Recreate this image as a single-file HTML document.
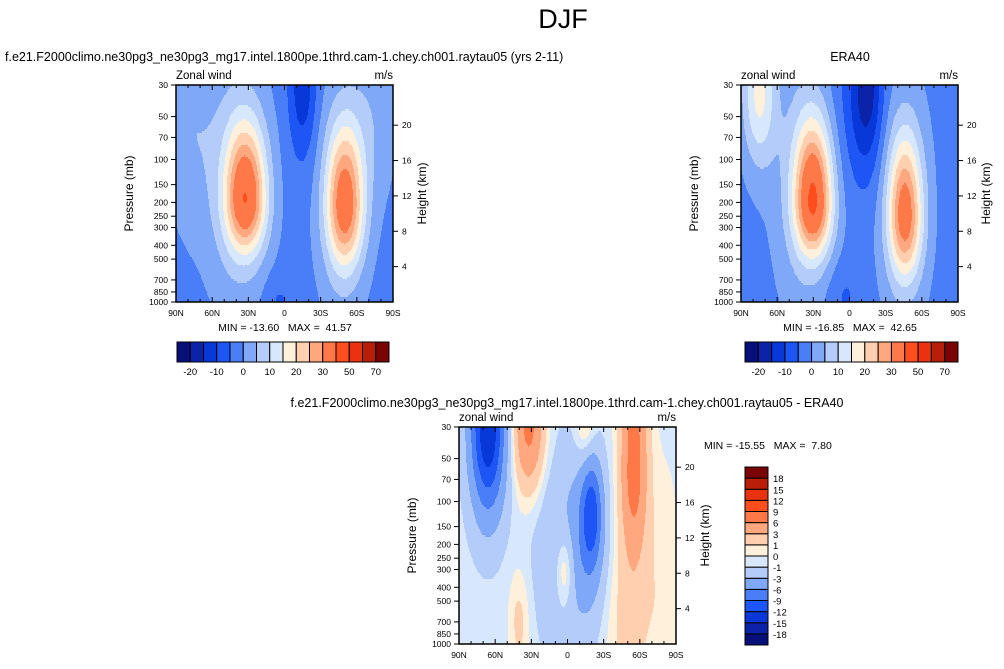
<!DOCTYPE html>
<html><head><meta charset="utf-8"><style>
html,body{margin:0;padding:0;background:#fff;}
svg{display:block;font-family:"Liberation Sans",Arial,sans-serif;}
text{white-space:pre;}
</style></head><body>
<svg id="chart" width="1004" height="669" viewBox="0 0 1004 669">
<text x="563" y="28" font-size="27" text-anchor="middle">DJF</text>
<text x="5" y="61" font-size="12.5">f.e21.F2000climo.ne30pg3_ne30pg3_mg17.intel.1800pe.1thrd.cam-1.chey.ch001.raytau05 (yrs 2-11)</text>
<text x="850" y="61" font-size="12.5" text-anchor="middle">ERA40</text>
<text x="567" y="407" font-size="12.5" text-anchor="middle">f.e21.F2000climo.ne30pg3_ne30pg3_mg17.intel.1800pe.1thrd.cam-1.chey.ch001.raytau05 - ERA40</text>
<text x="285" y="331" font-size="10.5" text-anchor="middle">MIN = -13.60&#160;&#160;&#160;MAX =&#160;&#160;41.57</text>
<text x="850" y="331" font-size="10.5" text-anchor="middle">MIN = -16.85&#160;&#160;&#160;MAX =&#160;&#160;42.65</text>
<text x="704" y="449" font-size="10.5">MIN = -15.55&#160;&#160;&#160;MAX =&#160;&#160;7.80</text>
<g id="panels"></g>
</svg>
<script>
// ---- data ----
const absLevels = [-20,-15,-10,-5,0,5,10,15,20,25,30,40,50,60,70];
const absLabels = ["-20","-10","0","10","20","30","50","70"];
const diffLevels = [-18,-15,-12,-9,-6,-3,-1,0,1,3,6,9,12,15,18];
const palette = ["#060f7a","#0a23a8","#0838d8","#1e55f5","#4a7ef8","#80a8f8","#b4ccfa","#d8e8fc","#fff0dc","#ffcfb0","#ffa880","#ff7848","#ff4e1e","#e83210","#b81e08","#7a0404"];
const pTicks = [30,50,70,100,150,200,250,300,400,500,700,850,1000];
const kmTicks = [4,8,12,16,20];
const latTicks = [90,60,30,0,-30,-60,-90];
const latTickLabels = ["90N","60N","30N","0","30S","60S","90S"];

// model field blobs
const mBase = -2;
const mLat  = [32, 40, -50, -48, -15, 78, -75, 5];
const mP    = [190, 150, 210, 200, 30, 60, 50, 1000];
const mAmp  = [35, 8, 32, 6, -12, 6, 5, -4];
const mSLat = [12, 18, 11, 15, 8, 15, 14, 8];
const mSUp  = [0.85, 1.5, 0.9, 1.5, 0.9, 1.2, 1.2, 0.3];
const mSDn  = [0.6, 1.5, 0.7, 1.5, 0.8, 1.2, 1.0, 0.3];

// ERA40 field blobs
const oBase = -2;
const oLat  = [30, 38, -46, -45, -15, 75, -5, 5];
const oP    = [200, 150, 250, 200, 30, 35, 40, 900];
const oAmp  = [37, 8, 31, 6, -13, 18, -5, -4];
const oSLat = [11, 18, 10, 15, 9, 10, 15, 10];
const oSUp  = [0.9, 1.5, 0.9, 1.5, 0.9, 0.8, 1.0, 0.4];
const oSDn  = [0.6, 1.5, 0.7, 1.5, 0.9, 0.8, 1.0, 0.4];

// difference field blobs
const dBase = -0.5;
const dLat  = [66, 32, -55, -50, -20, -15, 2, 10, -15, 40, -80];
const dP    = [30, 30, 60, 700, 120, 200, 300, 200, 30, 700, 400];
const dAmp  = [-14.5, 7.5, 8, 2.0, -8, -4, 3.5, -1.8, 2.5, 2.0, 1.2];
const dSLat = [10, 9, 8, 14, 6, 12, 5.5, 15, 6, 6, 10];
const dSUp  = [2, 2, 2, 1, 0.6, 1.0, 0.45, 1.2, 0.5, 0.6, 1.5];
const dSDn  = [0.95, 0.7, 1.0, 1, 0.6, 1.0, 0.45, 1.2, 0.5, 0.6, 1.5];

// ---- rendering ----
const NS = "http://www.w3.org/2000/svg";
const root = document.getElementById("panels");
function mk(tag, attrs, parent){const e=document.createElementNS(NS,tag);for(const k in attrs)e.setAttribute(k,attrs[k]);(parent||root).appendChild(e);return e;}
const LP0=Math.log(30), LP1=Math.log(1000);

function fieldVal(lat, lp, base, La, P, A, SL, SU, SD){
  let v=base;
  for(let i=0;i<La.length;i++){
    const z0=Math.log(P[i]); const dz=lp-z0; const s=dz<0?SU[i]:SD[i];
    v+=A[i]*Math.exp(-0.5*Math.pow((lat-La[i])/SL[i],2)-0.5*Math.pow(dz/s,2));
  }
  return v;
}
function colorIdx(v, lev){let i=0;while(i<lev.length&&v>=lev[i])i++;return i;}

function panel(name, bx, by, bw, bh, base, La, P, A, SL, SU, SD, lev, leftLab, rightLab, title){
  const g=mk("g",{});
  
  
  const xOf=lat=>bx+(90-lat)/180*bw;
  const yOf=p=>by+(Math.log(p)-LP0)/(LP1-LP0)*bh;
  const cells=mk("g",{},g);
  
  
  const rowH=2;
  for(let y=0;y<bh;y+=rowH){
    const lp=LP0+(y+rowH/2)/bh*(LP1-LP0);
    let runStart=0, runC=-1;
    for(let x=0;x<=bw;x++){
      let c=-2;
      if(x<bw){const lat=90-(x+0.5)/bw*180;c=colorIdx(fieldVal(lat,lp,base,La,P,A,SL,SU,SD),lev);}
      if(c!==runC){
        if(runC>=0){
          const r=mk("rect",{x:bx+runStart,y:by+y,width:x-runStart+0.5,height:Math.min(rowH,bh-y)+0.3,fill:palette[runC]},cells);
          
          
        }
        runStart=x;runC=c;
      }
    }
  }
  const frame=mk("rect",{x:bx,y:by,width:bw,height:bh,fill:"none",stroke:"#000","stroke-width":1.5},g);
  
  
  pTicks.forEach(p=>{
    const y=yOf(p);
    mk("line",{x1:bx-5,x2:bx,y1:y,y2:y,stroke:"#000","stroke-width":1},g);
    const t=mk("text",{x:bx-8,y:y+3,"font-size":8.5,"text-anchor":"end"},g);
    t.textContent=p;
    
    
  });
  kmTicks.forEach(k=>{
    const y=yOf(1000*Math.exp(-k/7));
    mk("line",{x1:bx+bw,x2:bx+bw+5,y1:y,y2:y,stroke:"#000","stroke-width":1},g);
    const t=mk("text",{x:bx+bw+9,y:y+3,"font-size":8.5},g);
    t.textContent=k;
    
    
  });
  for(let lat=90;lat>=-90;lat-=10){
    const x=xOf(lat); const major=lat%30===0;
    mk("line",{x1:x,x2:x,y1:by+bh,y2:by+bh-(major?5:3),stroke:"#000","stroke-width":1},g);
    mk("line",{x1:x,x2:x,y1:by,y2:by+(major?5:3),stroke:"#000","stroke-width":1},g);
  }
  latTicks.forEach((lat,i)=>{
    const t=mk("text",{x:xOf(lat),y:by+bh+14,"font-size":8.5,"text-anchor":"middle"},g);
    t.textContent=latTickLabels[i];
    
    
  });
  const yl=mk("text",{x:leftLab,y:by+bh/2,"font-size":12,"text-anchor":"middle",transform:`rotate(-90 ${leftLab} ${by+bh/2})`},g);
  yl.textContent="Pressure (mb)";
  
  
  const yr=mk("text",{x:rightLab,y:by+bh/2,"font-size":12,"text-anchor":"middle",transform:`rotate(-90 ${rightLab} ${by+bh/2})`},g);
  yr.textContent="Height (km)";
  
  
  const tl=mk("text",{x:bx,y:by-6,"font-size":11.5},g);
  tl.textContent=title;
  
  
  const tu=mk("text",{x:bx+bw,y:by-6,"font-size":11.5,"text-anchor":"end"},g);
  tu.textContent="m/s";
  
  
}

function hbar(name, x0, y0, w, h, labels){
  const g=mk("g",{});
  
  
  const bw=w/palette.length;
  palette.forEach((c,i)=>{
    const r=mk("rect",{x:x0+i*bw,y:y0,width:bw,height:h,fill:c,stroke:"#000","stroke-width":1},g);
    
    
  });
  labels.forEach((l,i)=>{
    const t=mk("text",{x:x0+(1+2*i)*bw,y:y0+h+13,"font-size":9.5,"text-anchor":"middle"},g);
    t.textContent=l;
    
    
  });
}
function vbar(name, x0, y0, w, h, lev){
  const g=mk("g",{});
  
  
  const n=palette.length, bh=h/n;
  palette.forEach((c,i)=>{
    const r=mk("rect",{x:x0,y:y0+h-(i+1)*bh,width:w,height:bh,fill:c,stroke:"#000","stroke-width":1},g);
    
    
  });
  lev.forEach((l,i)=>{
    const t=mk("text",{x:x0+w+5,y:y0+h-(i+1)*bh+4,"font-size":9.5},g);
    t.textContent=l;
    
    
  });
}

panel("model-panel",176,85,217,217,mBase,mLat,mP,mAmp,mSLat,mSUp,mSDn,absLevels,133,426,"Zonal wind");
panel("obs-panel",741,85,217,217,oBase,oLat,oP,oAmp,oSLat,oSUp,oSDn,absLevels,698,990,"zonal wind");
panel("diff-panel",459,427,217,217,dBase,dLat,dP,dAmp,dSLat,dSUp,dSDn,diffLevels,416,709,"zonal wind");
hbar("model-colorbar",177,342,212,20,absLabels);
hbar("obs-colorbar",745,342,213,20,absLabels);
vbar("diff-colorbar",745,467,23,178,diffLevels);
</script>
</body></html>
